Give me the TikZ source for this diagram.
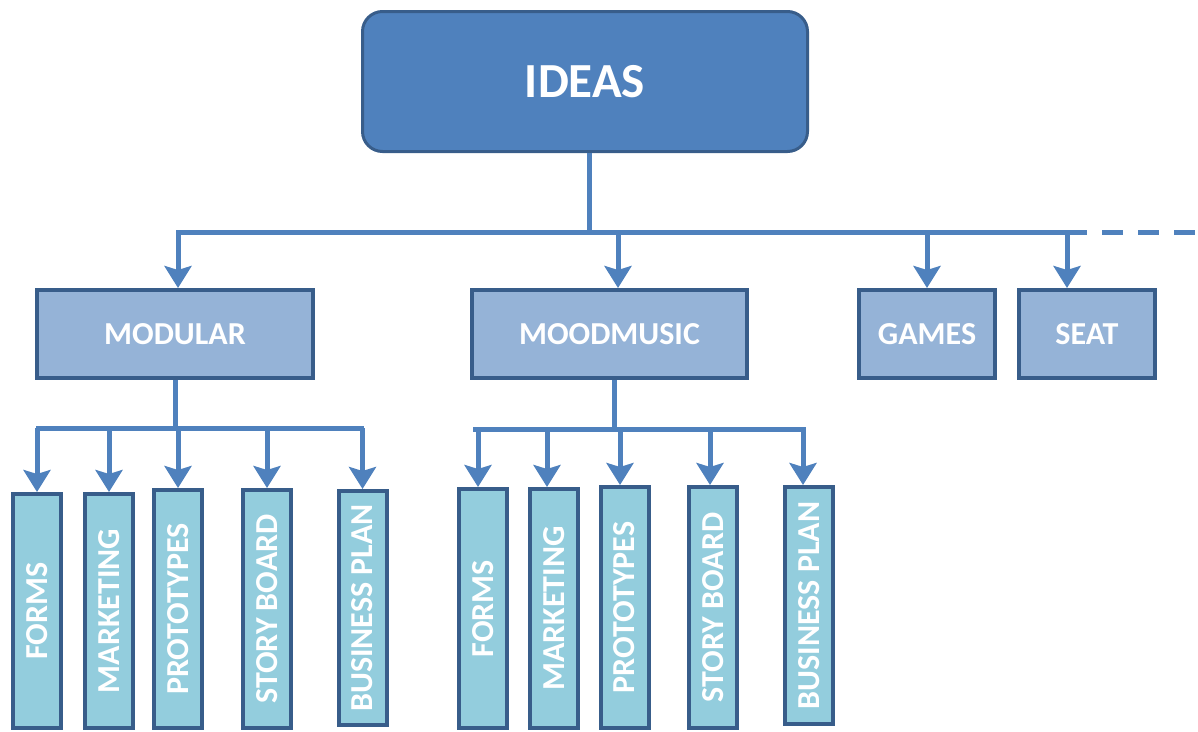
\documentclass[tikz,border=0pt]{standalone}
\usepackage{fontspec}
\setmainfont{Carlito}
\usetikzlibrary{arrows.meta}

\definecolor{ideafill}{HTML}{4F81BD}
\definecolor{edgeblue}{HTML}{385D8A}
\definecolor{groupfill}{HTML}{95B3D7}
\definecolor{leaffill}{HTML}{93CDDD}
\definecolor{linkblue}{HTML}{4F81BD}

\begin{document}
\begin{tikzpicture}[x=1pt, y=-1pt,
  ideabox/.style={draw=edgeblue, fill=ideafill, line width=3pt, rounded corners=20pt,
    inner sep=0pt, minimum width=445pt, minimum height=140pt,
    text=white, font=\fontsize{49}{52}\selectfont\bfseries},
  groupbox/.style={draw=edgeblue, fill=groupfill, line width=4pt,
    inner sep=0pt, minimum height=88pt,
    text=white, font=\fontsize{32}{35}\selectfont\bfseries},
  leafbox/.style={draw=edgeblue, fill=leaffill, line width=4pt, rotate=90,
    inner sep=0pt, minimum height=48pt,
    text=white, font=\fontsize{32}{35}\selectfont\bfseries},
  conn/.style={draw=linkblue, line width=5pt},
  arr/.style={conn, -{Stealth[length=22pt, width=27pt, inset=4pt]}}
]
\useasboundingbox (0,0) rectangle (1198,731);

% root
\node[ideabox] (ideas) at (585,81.5) {IDEAS};

% second level
\node[groupbox, minimum width=276pt] (modular)   at (175,334)   {MODULAR};
\node[groupbox, minimum width=275pt] (moodmusic) at (609.5,334) {MOODMUSIC};
\node[groupbox, minimum width=136pt] (games)     at (927,334)   {GAMES};
\node[groupbox, minimum width=136pt] (seat)      at (1087,334)  {SEAT};

% leaves under MODULAR
\node[leafbox, minimum width=234pt] (m1) at (37,611)    {FORMS};
\node[leafbox, minimum width=234pt] (m2) at (109,611)   {MARKETING};
\node[leafbox, minimum width=238pt] (m3) at (178,609)   {PROTOTYPES};
\node[leafbox, minimum width=238pt] (m4) at (267,609)   {STORY BOARD};
\node[leafbox, minimum width=234pt] (m5) at (362.5,608) {BUSINESS PLAN};

% leaves under MOODMUSIC
\node[leafbox, minimum width=239pt] (d1) at (483,608.5)   {FORMS};
\node[leafbox, minimum width=239pt] (d2) at (554,608.5)   {MARKETING};
\node[leafbox, minimum width=241pt] (d3) at (624.5,607.5) {PROTOTYPES};
\node[leafbox, minimum width=241pt] (d4) at (713,607.5)   {STORY BOARD};
\node[leafbox, minimum width=237pt] (d5) at (809,605.5)   {BUSINESS PLAN};

% main bus
\coordinate (hub)    at (589,232);
\coordinate (busL)   at (178,232);
\coordinate (busR)   at (1087,232);
\coordinate (busEnd) at (1198,232);
\draw[conn] (ideas.south -| hub) -- (hub);
\draw[conn] (busL) -- (busR);
\draw[conn, dash pattern=on 21pt off 15pt, dash phase=21pt] (busR) -- (busEnd);
\draw[conn] (busL) -- ++(0,-2.5);
\draw[arr] (busL) -- (modular.north -| busL);
\draw[arr] ([xshift=8.5pt]moodmusic.north |- hub) -- ([xshift=8.5pt]moodmusic.north);
\draw[arr] (games.north |- hub) -- (games.north);
\draw[arr] ([xshift=-20pt]seat.north |- hub) -- ([xshift=-20pt]seat.north);

% MODULAR branch
\coordinate (mhub) at (175,428);
\draw[conn] (modular.south) -- (mhub);
\draw[conn] ([xshift=-1pt]m1.east |- mhub) -- ([xshift=1.5pt]m5.east |- mhub);
\foreach \n in {m1,m2,m3,m4,m5}
  \draw[arr] (\n.east |- mhub) -- (\n.east);

% MOODMUSIC branch
\coordinate (dhub) at (614,429);
\draw[conn] ([xshift=4.5pt]moodmusic.south) -- (dhub);
\draw[conn] ([xshift=-10pt]d1.east |- dhub) -- ([xshift=-3pt]d5.east |- dhub);
\foreach \n/\dx in {d1/-5,d2/-7,d3/-4.5,d4/-3,d5/-6}
  \draw[arr] ([xshift=\dx pt]\n.east |- dhub) -- ([xshift=\dx pt]\n.east);
\end{tikzpicture}
\end{document}
